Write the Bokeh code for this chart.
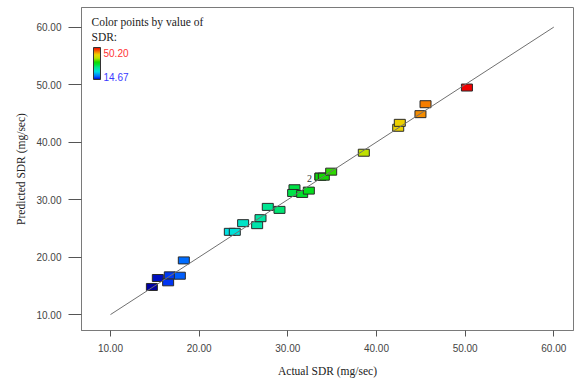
from bokeh.plotting import figure
from bokeh.models import (ColumnDataSource, LinearColorMapper, ColorBar, Label,
                          FixedTicker, NumeralTickFormatter, Range1d)
from bokeh.transform import transform
from bokeh.core.properties import value
from bokeh.embed import file_html
from bokeh.resources import INLINE

# ---- data ----
actual = [14.67, 15.34, 16.50, 16.69, 17.82, 18.27, 23.46, 24.02, 24.96, 26.54,
          26.92, 27.74, 29.06, 30.75, 30.60, 31.62, 32.37, 33.68, 33.68, 34.06,
          34.89, 38.57, 42.45, 42.63, 44.96, 45.53, 50.20]
predicted = [14.80, 16.36, 15.61, 16.82, 16.76, 19.42, 24.39, 24.39, 25.90, 25.55,
             26.77, 28.73, 28.21, 31.97, 31.15, 30.98, 31.56, 33.99, 33.99, 33.99,
             34.86, 38.15, 42.49, 43.35, 44.86, 46.59, 49.49]
ticks = [10, 20, 30, 40, 50, 60]
diag = [10, 60]
sdr_min, sdr_max = 14.67, 50.20
dup_label = ["2"]
dup_x = [33.68]
dup_y = [33.99]

# ---- colour palette (blue -> cyan -> green -> yellow -> red) ----
stops = [(0.00, (0, 0, 160)), (0.04, (0, 40, 240)), (0.10, (0, 110, 255)),
         (0.25, (0, 225, 225)), (0.38, (0, 230, 140)), (0.48, (0, 225, 40)),
         (0.55, (20, 215, 0)), (0.67, (190, 225, 0)), (0.78, (235, 215, 0)),
         (0.86, (245, 135, 0)), (1.00, (240, 0, 0))]
palette = []
for i in range(256):
    t = i / 255
    for (t0, c0), (t1, c1) in zip(stops[:-1], stops[1:]):
        if t0 <= t <= t1:
            f = (t - t0) / (t1 - t0)
            c = [round(a + (b - a) * f) for a, b in zip(c0, c1)]
            palette.append("#%02x%02x%02x" % tuple(c))
            break

mapper = LinearColorMapper(palette=palette, low=sdr_min, high=sdr_max)

p = figure(width=574, height=379, output_backend="svg", toolbar_location=None,
           x_range=Range1d(6.73, 62.22), y_range=Range1d(7.23, 63.41),
           min_border_left=81, min_border_right=1, min_border_top=7,
           min_border_bottom=48)
p.grid.visible = False
p.outline_line_color = "#7a7a7a"
p.outline_line_width = 1
p.background_fill_color = "white"
p.border_fill_color = "white"

src = ColumnDataSource(dict(actual=actual, predicted=predicted))
p.rect("actual", "predicted", width=11, height=7, width_units="screen",
       height_units="screen", source=src,
       fill_color=transform("actual", mapper), line_color="#2a2a2a", line_width=1)
p.line(diag, diag, line_color="#707070", line_width=1)
p.text(dup_x, dup_y, text=dup_label, x_offset=-11, y_offset=2,
       text_align="center", text_baseline="middle",
       text_font=value("Liberation Serif"), text_font_size="10px",
       text_color="#333333")

for ax in (p.xaxis[0], p.yaxis[0]):
    ax.ticker = FixedTicker(ticks=ticks)
    ax.formatter = NumeralTickFormatter(format="0.00")
    ax.minor_tick_line_color = None
    ax.major_tick_in = 0
    ax.axis_line_color = "#7a7a7a"
    ax.major_tick_line_color = "#555555"
    ax.major_label_text_font = "Liberation Sans"
    ax.major_label_text_font_size = "10px"
    ax.major_label_text_color = "#444444"
    ax.axis_label_text_font = "Liberation Serif"
    ax.axis_label_text_font_size = "11.5px"
    ax.axis_label_text_font_style = "normal"
    ax.axis_label_text_color = "#222222"

p.xaxis.axis_label = "Actual SDR (mg/sec)"
p.yaxis.axis_label = "Predicted SDR (mg/sec)"
p.xaxis.major_tick_out = 6
p.yaxis.major_tick_out = 13
p.xaxis.major_label_standoff = 7
p.yaxis.major_label_standoff = 7
p.xaxis.axis_label_standoff = 10
p.yaxis.axis_label_standoff = 6

# ---- colour legend ----
for txt, yy in (("Color points by value of", 309), ("SDR:", 294)):
    p.add_layout(Label(x=10, y=yy, x_units="screen", y_units="screen", text=txt,
                       text_font="Liberation Serif", text_font_size="11.5px",
                       text_color="#222222", text_baseline="middle"))
cb = ColorBar(color_mapper=mapper, location=(12, 251), width=7, height=32,
              padding=0, margin=0, title=None, background_fill_alpha=0,
              ticker=FixedTicker(ticks=[]), major_label_text_font_size="10px",
              major_tick_line_color=None, bar_line_color="#333333",
              border_line_color=None, label_standoff=0)
p.add_layout(cb, "center")
p.add_layout(Label(x=22, y=278, x_units="screen", y_units="screen", text="50.20",
                   text_font="Liberation Sans", text_font_size="10px",
                   text_color="#ff3333", text_baseline="middle"))
p.add_layout(Label(x=22, y=254, x_units="screen", y_units="screen", text="14.67",
                   text_font="Liberation Sans", text_font_size="10px",
                   text_color="#3a3aff", text_baseline="middle"))

open("out.html", "w").write(file_html(p, INLINE))
